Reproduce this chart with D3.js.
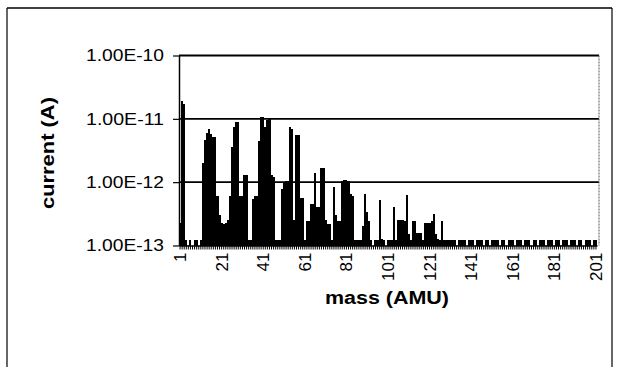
<!DOCTYPE html>
<html>
<head>
<meta charset="utf-8">
<script src="https://cdn.jsdelivr.net/npm/d3@7"></script>
<style>
  html, body { margin: 0; padding: 0; background: #fff; }
  svg { display: block; }
  text { font-family: "Liberation Sans", Arial, sans-serif; fill: #000; }
</style>
</head>
<body>
<svg id="chart" width="618" height="367"></svg>
<script>
// ---- data ----
const masses = d3.range(1, 202); // categories 1..201
const currents = [
  // 1-10
  2.3e-13, 1.9e-11, 1.7e-11, 1.2e-13, 1e-13, 1.2e-13, 1e-13, 1.2e-13, 1.2e-13, 1e-13,
  // 11-20
  1.2e-13, 2.0e-12, 4.6e-12, 5.9e-12, 6.8e-12, 5.8e-12, 5.2e-12, 5.2e-12, 6.0e-13, 3.0e-13,
  // 21-30
  2.3e-13, 2.2e-13, 2.3e-13, 2.5e-13, 6.0e-13, 3.6e-12, 7.4e-12, 8.8e-12, 8.8e-12, 6.0e-13,
  // 31-40
  6.0e-13, 1.3e-12, 1.3e-12, 1.2e-13, 1.2e-13, 5.5e-13, 6.0e-13, 6.0e-13, 4.5e-12, 1.07e-11,
  // 41-50
  1.05e-11, 7.5e-12, 9.5e-12, 1.0e-11, 1.3e-12, 1.2e-12, 1.2e-13, 1.2e-13, 1.2e-13, 7.8e-13,
  // 51-60
  1.0e-12, 1.05e-12, 1.05e-12, 7.3e-12, 7.0e-12, 2.5e-13, 5.5e-12, 5.5e-12, 5.6e-13, 5.6e-13,
  // 61-70
  1.2e-13, 2.4e-13, 2.4e-13, 4.5e-13, 4.5e-13, 1.38e-12, 4.0e-13, 4.0e-13, 1.7e-12, 1.7e-12,
  // 71-80
  2.5e-13, 2.2e-13, 2.2e-13, 1.2e-13, 8.5e-13, 3.0e-13, 2.4e-13, 2.4e-13, 1.05e-12, 1.1e-12,
  // 81-90
  1.1e-12, 1.05e-12, 6.4e-13, 6.0e-13, 1.2e-13, 1.2e-13, 1.2e-13, 1.2e-13, 2.0e-13, 6.5e-13,
  // 91-100
  3.4e-13, 2.4e-13, 1.2e-13, 1e-13, 1.2e-13, 1.2e-13, 5.3e-13, 1.25e-13, 1.2e-13, 1e-13,
  // 101-110
  1.2e-13, 1.2e-13, 1.2e-13, 4.1e-13, 1.2e-13, 2.5e-13, 2.5e-13, 2.5e-13, 2.4e-13, 6.3e-13,
  // 111-120
  1.5e-13, 1.2e-13, 2.4e-13, 2.4e-13, 1.6e-13, 1.6e-13, 1.6e-13, 1.2e-13, 2.3e-13, 2.3e-13,
  // 121-130
  2.3e-13, 2.4e-13, 3.1e-13, 1.5e-13, 1.25e-13, 1.2e-13, 2.4e-13, 1.2e-13, 1.2e-13, 1.2e-13,
  // 131-140
  1.2e-13, 1.2e-13, 1.2e-13, 1e-13, 1.2e-13, 1.2e-13, 1.2e-13, 1.2e-13, 1e-13, 1.2e-13,
  // 141-150
  1.2e-13, 1.2e-13, 1e-13, 1.2e-13, 1.2e-13, 1.2e-13, 1e-13, 1.2e-13, 1.2e-13, 1e-13,
  // 151-160
  1.2e-13, 1.2e-13, 1.2e-13, 1.2e-13, 1e-13, 1.2e-13, 1.2e-13, 1e-13, 1.2e-13, 1.2e-13,
  // 161-170
  1.2e-13, 1e-13, 1.2e-13, 1.2e-13, 1.2e-13, 1e-13, 1.2e-13, 1.2e-13, 1.2e-13, 1e-13,
  // 171-180
  1.2e-13, 1.2e-13, 1e-13, 1.2e-13, 1.2e-13, 1.2e-13, 1e-13, 1.2e-13, 1.2e-13, 1.2e-13,
  // 181-190
  1e-13, 1.2e-13, 1.2e-13, 1e-13, 1.2e-13, 1.2e-13, 1.2e-13, 1e-13, 1.2e-13, 1.2e-13,
  // 191-200
  1.2e-13, 1e-13, 1.2e-13, 1.2e-13, 1e-13, 1.2e-13, 1.2e-13, 1.2e-13, 1e-13, 1.2e-13,
  // 201
  1.2e-13
];
const xTickLabels = [1, 21, 41, 61, 81, 101, 121, 141, 161, 181, 201];
const yTickValues = [1e-13, 1e-12, 1e-11, 1e-10];
const xTitle = "mass (AMU)";
const yTitle = "current (A)";

// ---- layout ----
const svg = d3.select("#chart");
const plot = { left: 179, right: 597, top: 55.5, bottom: 245.5 };

const x = d3.scaleBand().domain(masses).range([plot.left, plot.right]).padding(0);
const y = d3.scaleLog().domain([1e-13, 1e-10]).range([plot.bottom, plot.top]);

// outer frame
const frame = svg.append("g").attr("stroke", "#000").attr("fill", "none");
frame.append("line").attr("x1", 7).attr("y1", 8).attr("x2", 612).attr("y2", 8).attr("stroke-width", 1.5);
frame.append("line").attr("x1", 7).attr("y1", 8).attr("x2", 7).attr("y2", 367).attr("stroke-width", 1.2);
frame.append("line").attr("x1", 612).attr("y1", 8).attr("x2", 612).attr("y2", 367).attr("stroke-width", 1.2);

// gridlines (1e-12, 1e-11, 1e-10)
svg.append("g")
  .selectAll("line")
  .data(yTickValues.slice(1))
  .join("line")
  .attr("x1", plot.left).attr("x2", plot.right + 2)
  .attr("y1", d => y(d)).attr("y2", d => y(d))
  .attr("stroke", "#000")
  .attr("stroke-width", 1.8);

// right plot border
svg.append("line")
  .attr("x1", plot.right + 2).attr("x2", plot.right + 2)
  .attr("y1", plot.top).attr("y2", plot.bottom)
  .attr("stroke", "#555").attr("stroke-width", 1).attr("stroke-dasharray", "2,1");

// bars
svg.append("g")
  .selectAll("rect")
  .data(masses.map((m, i) => ({ m, v: currents[i] })))
  .join("rect")
  .attr("x", d => x(d.m))
  .attr("width", x.bandwidth())
  .attr("y", d => y(Math.max(d.v, 1e-13)))
  .attr("height", d => plot.bottom - y(Math.max(d.v, 1e-13)))
  .attr("fill", "#000")
  .attr("shape-rendering", "crispEdges");

// y axis
const yAxis = svg.append("g")
  .attr("transform", `translate(${plot.left},0)`)
  .call(d3.axisLeft(y)
    .tickValues(yTickValues)
    .tickFormat(d => "1.00E" + Math.round(Math.log10(d)))
    .tickSizeInner(6).tickSizeOuter(0).tickPadding(9));
yAxis.select(".domain").attr("stroke", "#000").attr("stroke-width", 1.5);
yAxis.selectAll(".tick line").attr("stroke", "#000").attr("stroke-width", 1.2);
yAxis.selectAll(".tick text")
  .attr("font-size", 17)
  .attr("textLength", 78)
  .attr("lengthAdjust", "spacingAndGlyphs");

// x axis
const xAxis = svg.append("g")
  .attr("transform", `translate(0,${plot.bottom})`)
  .call(d3.axisBottom(x)
    .tickValues(masses)
    .tickFormat(d => xTickLabels.includes(d) ? String(d) : "")
    .tickSizeInner(4).tickSizeOuter(0));
xAxis.select(".domain").attr("stroke", "#000").attr("stroke-width", 1.5);
xAxis.selectAll(".tick line").attr("stroke", "#000").attr("stroke-width", 1);
xAxis.selectAll(".tick text")
  .attr("font-size", 17)
  .attr("transform", "rotate(-90)")
  .attr("x", -7)
  .attr("y", 0)
  .attr("dy", "0.35em")
  .attr("text-anchor", "end");

// axis titles
svg.append("text")
  .attr("x", 387).attr("y", 304)
  .attr("text-anchor", "middle")
  .attr("font-size", 18).attr("font-weight", "bold")
  .attr("textLength", 124).attr("lengthAdjust", "spacingAndGlyphs")
  .text(xTitle);

svg.append("text")
  .attr("transform", "translate(54,153) rotate(-90)")
  .attr("text-anchor", "middle")
  .attr("font-size", 18).attr("font-weight", "bold")
  .attr("textLength", 112).attr("lengthAdjust", "spacingAndGlyphs")
  .text(yTitle);
</script>
</body>
</html>
